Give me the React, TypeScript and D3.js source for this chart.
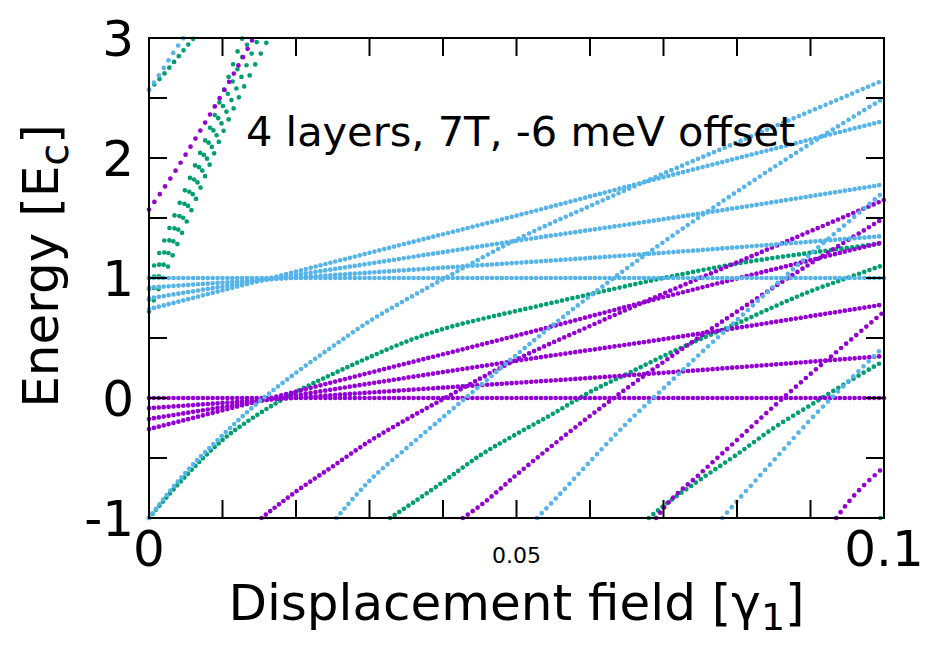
import React, { useRef, useEffect } from 'react';
import * as d3 from 'd3';

type Pt = [number, number];

// Landau levels: [displacement field, energy]
// blue family
const blueFlat: Pt[] = [[0, 1.0], [0.1, 1.0]];
const blueFan1: Pt[] = [[0, 0.92], [0.03, 1.045], [0.07, 1.21], [0.1, 1.35]];
const blueFan2: Pt[] = [[0, 0.83], [0.0163, 0.99], [0.03, 1.12], [0.05, 1.31], [0.07, 1.49], [0.1, 1.78]];
const blueFan3: Pt[] = [[0, 0.74], [0.03, 1.21], [0.05, 1.52], [0.07, 1.84], [0.1, 2.31]];
const blueRise1: Pt[] = [[0, -1], [0.005, -0.62], [0.01, -0.31], [0.015, -0.03], [0.02, 0.21], [0.025, 0.43], [0.03, 0.64], [0.035, 0.82], [0.04, 0.99], [0.05, 1.32], [0.06, 1.6], [0.07, 1.87], [0.08, 2.13], [0.09, 2.39], [0.1, 2.65]];
const blueRise2: Pt[] = [[0.0255, -1], [0.03, -0.69], [0.035, -0.42], [0.04, -0.16], [0.045, 0.1], [0.05, 0.36], [0.055, 0.61], [0.06, 0.85], [0.065, 1.08], [0.07, 1.3], [0.08, 1.72], [0.09, 2.12], [0.1, 2.5]];
const blueRise3: Pt[] = [[0.0528, -1], [0.055, -0.86], [0.06, -0.53], [0.065, -0.21], [0.07, 0.08], [0.075, 0.37], [0.08, 0.65], [0.085, 0.93], [0.09, 1.2], [0.095, 1.46], [0.1, 1.72]];
const blueRise4: Pt[] = [[0.078, -1], [0.08, -0.86], [0.085, -0.52], [0.09, -0.18], [0.095, 0.13], [0.1, 0.43]];
const blueTop: Pt[] = [[0, 2.567], [0.002, 2.75], [0.004, 2.94], [0.0047, 3.0]];

// purple family
const purpleFlat: Pt[] = [[0, 0], [0.1, 0]];
const purpleFan1: Pt[] = [[0, -0.085], [0.03, 0.045], [0.07, 0.21], [0.1, 0.35]];
const purpleFan2: Pt[] = [[0, -0.175], [0.03, 0.12], [0.05, 0.31], [0.07, 0.49], [0.1, 0.78]];
const purpleFan3: Pt[] = [[0, -0.26], [0.03, 0.21], [0.05, 0.52], [0.07, 0.84], [0.1, 1.3]];
const purpleRise1: Pt[] = [[0.0153, -1], [0.02, -0.78], [0.025, -0.57], [0.03, -0.36], [0.035, -0.18], [0.04, -0.01], [0.045, 0.16], [0.05, 0.32], [0.06, 0.6], [0.07, 0.87], [0.08, 1.13], [0.09, 1.39], [0.1, 1.65]];
const purpleRise2: Pt[] = [[0.0427, -1], [0.045, -0.9], [0.05, -0.64], [0.055, -0.39], [0.06, -0.15], [0.065, 0.08], [0.07, 0.3], [0.08, 0.72], [0.09, 1.12], [0.1, 1.5]];
const purpleRise3: Pt[] = [[0.069, -1], [0.07, -0.92], [0.075, -0.63], [0.08, -0.35], [0.085, -0.07], [0.09, 0.2], [0.095, 0.46], [0.1, 0.72]];
const purpleRise4: Pt[] = [[0.0935, -1], [0.095, -0.88], [0.1, -0.575]];
const purpleTop: Pt[] = [[0, 1.57], [0.0034, 1.875], [0.0067, 2.2], [0.0101, 2.55], [0.0135, 2.92], [0.0142, 3.0]];

// green family
const greenRise1: Pt[] = [[0, -1], [0.005, -0.65], [0.01, -0.35], [0.015, -0.13], [0.02, 0.05], [0.025, 0.2], [0.03, 0.34], [0.035, 0.47], [0.04, 0.575], [0.045, 0.655], [0.05, 0.725], [0.06, 0.865], [0.07, 1.0], [0.08, 1.12], [0.09, 1.21], [0.1, 1.29]];
const greenRise2: Pt[] = [[0.0328, -1], [0.035, -0.91], [0.04, -0.7], [0.045, -0.48], [0.05, -0.3], [0.055, -0.13], [0.06, 0.05], [0.065, 0.2], [0.07, 0.35], [0.075, 0.49], [0.08, 0.62], [0.085, 0.76], [0.09, 0.89], [0.095, 1.0], [0.1, 1.11]];
const greenRise3: Pt[] = [[0.068, -1], [0.07, -0.9], [0.075, -0.68], [0.08, -0.47], [0.085, -0.25], [0.09, -0.06], [0.095, 0.13], [0.1, 0.31]];
const greenRise4: Pt[] = [[0.0995, -1], [0.1, -0.97]];
const greenTop: Pt[] = [[0, 2.57], [0.001, 2.63], [0.003, 2.77], [0.005, 2.92], [0.0061, 3.0]];
const greenBundle1: Pt[] = [[0, 1.0], [0.004, 1.6], [0.0081, 2.22], [0.0127, 3.0]];
const greenBundle2: Pt[] = [[0, 0.91], [0.0047, 1.6], [0.0087, 2.22], [0.0137, 3.0]];
const greenBundle3: Pt[] = [[0, 0.82], [0.0053, 1.6], [0.0094, 2.22], [0.0149, 3.0]];
const greenBundle4: Pt[] = [[0, 0.72], [0.006, 1.6], [0.0101, 2.22], [0.0163, 3.0]];

const greenCurves = [greenRise1, greenRise2, greenRise3, greenRise4, greenTop, greenBundle1, greenBundle2, greenBundle3, greenBundle4];
const purpleCurves = [purpleFlat, purpleFan1, purpleFan2, purpleFan3, purpleRise1, purpleRise2, purpleRise3, purpleRise4, purpleTop];
const blueCurves = [blueFlat, blueFan1, blueFan2, blueFan3, blueRise1, blueRise2, blueRise3, blueRise4, blueTop];

// ticks and labels
const xTicks = [0, 0.01, 0.02, 0.03, 0.04, 0.05, 0.06, 0.07, 0.08, 0.09, 0.1];
const yTicks = [-1, -0.5, 0, 0.5, 1, 1.5, 2, 2.5, 3];
const yLabels = [-1, 0, 1, 2, 3];
const xLabels: { v: number; text: string; size: number }[] = [
    { v: 0, text: '0', size: 50 },
    { v: 0.05, text: '0.05', size: 22 },
    { v: 0.1, text: '0.1', size: 50 },
];

function App() {
    const svgRef = useRef<SVGSVGElement | null>(null);

    useEffect(() => {
        const width = 929;
        const height = 648;
        const margin = { top: 38, right: 45, bottom: 130, left: 149 };
        const font = 'DejaVu Sans, sans-serif';

        const svg = d3.select(svgRef.current);
        svg.selectAll('*').remove();
        svg.attr('width', width).attr('height', height);

        const x = d3.scaleLinear().domain([0, 0.1]).range([margin.left, width - margin.right]);
        const y = d3.scaleLinear().domain([-1, 3]).range([height - margin.bottom, margin.top]);

        svg.append('defs').append('clipPath').attr('id', 'plot-clip')
            .append('rect')
            .attr('x', x(0) - 3).attr('y', y(3) - 3)
            .attr('width', x(0.1) - x(0) + 6).attr('height', y(-1) - y(3) + 6);

        const line = d3.line<Pt>()
            .x(d => x(d[0]))
            .y(d => y(d[1]))
            .curve(d3.curveMonotoneX);

        // dots spaced like a sampling of 150 steps in x
        const step = (x(0.1) - x(0)) / 150;

        const layers = [
            { color: '#009e73', curves: greenCurves },
            { color: '#9400d3', curves: purpleCurves },
            { color: '#56b4e9', curves: blueCurves },
        ];

        const plot = svg.append('g').attr('clip-path', 'url(#plot-clip)');
        layers.forEach(layer => {
            layer.curves.forEach(curve => {
                const p = plot.append('path')
                    .attr('d', line(curve))
                    .attr('fill', 'none')
                    .attr('stroke', layer.color)
                    .attr('stroke-width', 4.7)
                    .attr('stroke-linecap', 'round');
                const node = p.node() as SVGPathElement;
                const len = node.getTotalLength();
                const span = x(curve[curve.length - 1][0]) - x(curve[0][0]);
                const gap = span > 0 ? step * len / span : step;
                p.attr('stroke-dasharray', `0 ${gap}`);
            });
        });

        // frame
        svg.append('rect')
            .attr('x', x(0)).attr('y', y(3))
            .attr('width', x(0.1) - x(0)).attr('height', y(-1) - y(3))
            .attr('fill', 'none').attr('stroke', 'black').attr('stroke-width', 2);

        const tickLen = 18;
        const ticks = svg.append('g').attr('stroke', 'black').attr('stroke-width', 2);
        xTicks.forEach(v => {
            ticks.append('line').attr('x1', x(v)).attr('x2', x(v)).attr('y1', y(-1)).attr('y2', y(-1) - tickLen);
            ticks.append('line').attr('x1', x(v)).attr('x2', x(v)).attr('y1', y(3)).attr('y2', y(3) + tickLen);
        });
        yTicks.forEach(v => {
            ticks.append('line').attr('x1', x(0)).attr('x2', x(0) + tickLen).attr('y1', y(v)).attr('y2', y(v));
            ticks.append('line').attr('x1', x(0.1)).attr('x2', x(0.1) - tickLen).attr('y1', y(v)).attr('y2', y(v));
        });

        // tick labels
        svg.append('g').selectAll('text').data(yLabels).join('text')
            .attr('x', x(0) - 15)
            .attr('y', d => y(d) + 18)
            .attr('text-anchor', 'end')
            .attr('font-family', font)
            .attr('font-size', 50)
            .text(d => String(d));

        svg.append('g').selectAll('text').data(xLabels).join('text')
            .attr('x', d => x(d.v))
            .attr('y', d => d.size > 30 ? 566 : 563)
            .attr('text-anchor', 'middle')
            .attr('font-family', font)
            .attr('font-size', d => d.size)
            .text(d => d.text);

        // axis titles
        const xt = svg.append('text')
            .attr('x', x(0.05)).attr('y', 620)
            .attr('text-anchor', 'middle')
            .attr('font-family', font).attr('font-size', 50);
        xt.append('tspan').text('Displacement field [γ');
        xt.append('tspan').attr('font-size', 38).attr('dy', 10).text('1');
        xt.append('tspan').attr('dy', -10).text(']');

        const yt = svg.append('text')
            .attr('transform', `translate(58,${y(1.1)}) rotate(-90)`)
            .attr('text-anchor', 'middle')
            .attr('font-family', font).attr('font-size', 50);
        yt.append('tspan').text('Energy [E');
        yt.append('tspan').attr('font-size', 40).attr('dy', 10).text('c');
        yt.append('tspan').attr('dy', -10).text(']');

        svg.append('text')
            .attr('x', 246).attr('y', 146)
            .attr('font-family', font).attr('font-size', 41.5)
            .text('4 layers, 7T, -6 meV offset');
    }, []);

    return (
        <div>
            <svg ref={svgRef} style={{ position: 'absolute', left: 0, top: 0, background: 'white' }}></svg>
        </div>
    );
}

export default App;
